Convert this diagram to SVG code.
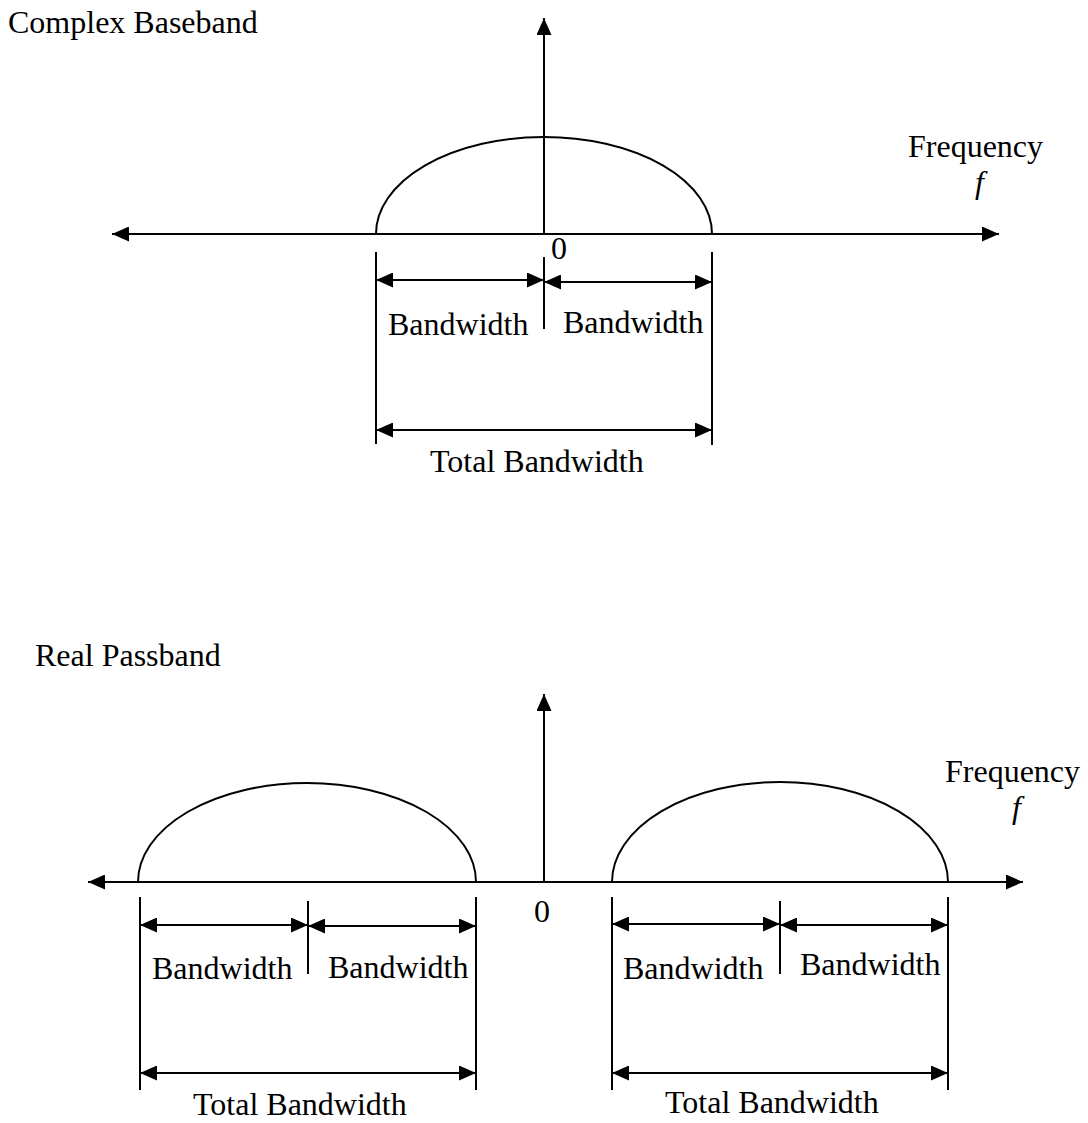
<svg xmlns="http://www.w3.org/2000/svg" width="1088" height="1123" viewBox="0 0 1088 1123">
<defs>
<marker id="ah" viewBox="0 0 17 15" refX="17" refY="7.5" markerWidth="17" markerHeight="15" markerUnits="userSpaceOnUse" orient="auto-start-reverse">
<path d="M0,0 L17,7.5 L0,15 Z" fill="#000"/>
</marker>
<style>
.ln{stroke:#000;stroke-width:2;fill:none}
.ar{stroke:#000;stroke-width:2;fill:none;marker-start:url(#ah);marker-end:url(#ah)}
.ae{stroke:#000;stroke-width:2;fill:none;marker-end:url(#ah)}
text{font-family:"Liberation Serif","Times New Roman",serif;font-size:32px;fill:#000}
.it{font-style:italic}
</style>
</defs>
<rect width="1088" height="1123" fill="#fff"/>

<g id="top-labels">
<text x="8" y="33">Complex Baseband</text>
<text x="908" y="157">Frequency</text>
<text x="975" y="193" class="it">f</text>
<text x="551" y="259">0</text>
</g>

<g id="top-spectrum">
<path class="ln" d="M376,234 A168,97 0 0 1 712,234"/>
</g>

<g id="top-dimensions">
<line class="ln" x1="376" y1="252" x2="376" y2="444"/>
<line class="ln" x1="712" y1="252" x2="712" y2="445"/>
<line class="ln" x1="544" y1="257" x2="544" y2="329"/>
<text x="388" y="335">Bandwidth</text>
<text x="563" y="333">Bandwidth</text>
<text x="430" y="472">Total Bandwidth</text>
</g>

<g id="bottom-labels">
<text x="35" y="666">Real Passband</text>
<text x="945" y="782">Frequency</text>
<text x="1012" y="818" class="it">f</text>
<text x="534" y="922">0</text>
</g>

<g id="bottom-spectrum">
<path class="ln" d="M138,882 A169,99 0 0 1 476,882"/>
<path class="ln" d="M612,882 A168,100 0 0 1 948,882"/>
</g>

<g id="bottom-dimensions">
<line class="ln" x1="140" y1="897" x2="140" y2="1090"/>
<line class="ln" x1="476" y1="897" x2="476" y2="1090"/>
<line class="ln" x1="308" y1="901" x2="308" y2="974"/>
<line class="ln" x1="612" y1="897" x2="612" y2="1090"/>
<line class="ln" x1="948" y1="897" x2="948" y2="1090"/>
<line class="ln" x1="780" y1="901" x2="780" y2="974"/>
<text x="152" y="979">Bandwidth</text>
<text x="328" y="978">Bandwidth</text>
<text x="623" y="979">Bandwidth</text>
<text x="800" y="975">Bandwidth</text>
<text x="193" y="1115">Total Bandwidth</text>
<text x="665" y="1113">Total Bandwidth</text>
</g>

<g id="connectors">
<line class="ar" x1="112" y1="234" x2="999" y2="234"/>
<line class="ae" x1="544" y1="234" x2="544" y2="18"/>
<line class="ar" x1="376" y1="280" x2="544" y2="280"/>
<line class="ar" x1="544" y1="282" x2="712" y2="282"/>
<line class="ar" x1="376" y1="430" x2="712" y2="430"/>

<line class="ar" x1="88" y1="882" x2="1023" y2="882"/>
<line class="ae" x1="544" y1="882" x2="544" y2="694"/>
<line class="ar" x1="140" y1="925" x2="308" y2="925"/>
<line class="ar" x1="308" y1="926" x2="476" y2="926"/>
<line class="ar" x1="140" y1="1073" x2="476" y2="1073"/>
<line class="ar" x1="612" y1="924" x2="780" y2="924"/>
<line class="ar" x1="780" y1="925" x2="948" y2="925"/>
<line class="ar" x1="612" y1="1073" x2="948" y2="1073"/>
</g>
</svg>
